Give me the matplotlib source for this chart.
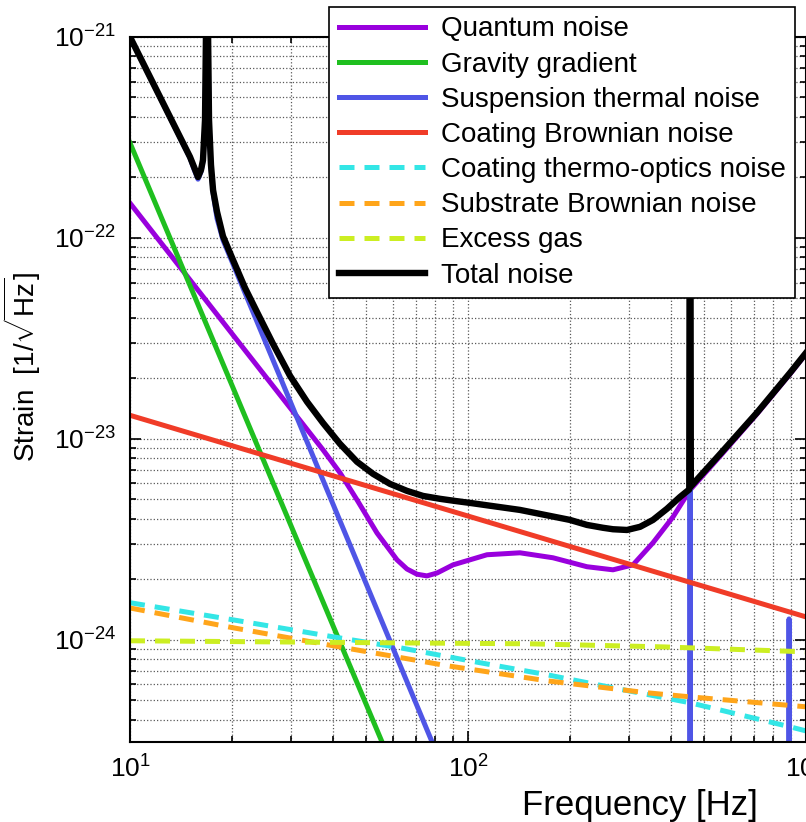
import numpy as np
import matplotlib
matplotlib.use("Agg")
import matplotlib.pyplot as plt

plt.rcParams['font.family'] = ['Liberation Sans', 'DejaVu Sans']
plt.rcParams['mathtext.fontset'] = 'custom'
plt.rcParams['mathtext.rm'] = 'Liberation Sans'
plt.rcParams['mathtext.it'] = 'Liberation Sans:italic'
plt.rcParams['mathtext.bf'] = 'Liberation Sans:bold'

# frequency [Hz] / strain [1/sqrt(Hz)]
f_quantum = [10, 15.05, 20.17, 29.74, 37.24, 41.81, 46.95, 53.8, 61.66, 66.0, 70.66,
             75.6, 81.0, 90.3, 113.8, 142.5, 178.4, 224.9, 268.5, 307.7, 352.6,
             404.2, 453.9, 556.8, 716, 896.6, 1000]
s_quantum = [1.49e-22, 6.18e-23, 3.29e-23, 1.43e-23, 8.82e-24, 6.78e-24, 4.97e-24,
             3.40e-24, 2.50e-24, 2.25e-24, 2.12e-24, 2.08e-24, 2.15e-24, 2.36e-24,
             2.65e-24, 2.71e-24, 2.56e-24, 2.31e-24, 2.23e-24, 2.36e-24, 3.04e-24,
             4.09e-24, 5.57e-24, 8.2e-24, 1.33e-23, 2.1e-23, 2.65e-23]

f_gravity = [10, 20, 40, 80]
s_gravity = [2.97e-22, 1.86e-23, 1.16e-24, 7.3e-26]

f_susp = [10, 15.05, 15.46, 15.89, 16.22, 16.44, 16.67, 16.9, 17.13, 17.36, 17.61,
          18.09, 18.84, 78.3, 100, 200, 451.5, 453.9, 456.3, 885, 891, 897, 1000]
s_susp = [1.0e-21, 2.5e-22, 2.2e-22, 1.96e-22, 2.13e-22, 2.4e-22, 3.8e-22, 3e-21,
          3.8e-22, 2.25e-22, 1.68e-22, 1.25e-22, 9.77e-23, 3.1e-25, 1.15e-25, 8e-27,
          5e-28, 3e-21, 5e-28, 1e-28, 1.27e-24, 1e-28, 1e-28]

f_coat = [10, 100, 1000]
s_coat = [1.31e-23, 4.13e-24, 1.30e-24]

f_cto = [10, 20.17, 39.87, 62.9, 108.5, 171.3, 268.5, 453.9, 896.6, 1000]
s_cto = [1.53e-24, 1.257e-24, 1.035e-24, 9.13e-25, 7.69e-25, 6.70e-25, 5.77e-25,
         4.86e-25, 3.69e-25, 3.52e-25]

f_sub = [10, 20.17, 39.87, 86.7, 171.3, 338.5, 453.9, 1000]
s_sub = [1.44e-24, 1.148e-24, 9.34e-25, 7.43e-25, 6.25e-25, 5.45e-25, 5.20e-25, 4.64e-25]

f_gas = [10, 58.8, 152.6, 377.6, 1000]
s_gas = [9.89e-25, 9.66e-25, 9.55e-25, 9.22e-25, 8.71e-25]

f_total = [10, 15.05, 15.46, 15.89, 16.22, 16.44, 16.67, 16.9, 17.13, 17.36, 17.61,
           18.09, 18.84, 20.17, 21.89, 23.75, 26.49, 29.74, 33.40, 37.24, 41.81, 46.95,
           52.35, 58.77, 65.99, 73.6, 82.65, 91.5, 101.4, 142.5, 200.3, 224.9, 250.8,
           268.5, 295.4, 322.9, 352.6, 388.0, 423.9, 451.5, 453.9, 456.3, 556.8, 716,
           896.6, 1000]
s_total = [1.0e-21, 2.53e-22, 2.26e-22, 2.01e-22, 2.18e-22, 2.44e-22, 3.86e-22, 3e-21,
           3.86e-22, 2.31e-22, 1.73e-22, 1.35e-22, 1.02e-22, 7.77e-23, 5.64e-23, 4.28e-23,
           2.97e-23, 2.06e-23, 1.53e-23, 1.20e-23, 9.44e-24, 7.69e-24, 6.70e-24, 5.97e-24,
           5.51e-24, 5.20e-24, 5.03e-24, 4.91e-24, 4.80e-24, 4.43e-24, 3.95e-24, 3.73e-24,
           3.61e-24, 3.55e-24, 3.52e-24, 3.65e-24, 3.95e-24, 4.49e-24, 5.14e-24, 5.6e-24,
           3e-21, 5.8e-24, 8.4e-24, 1.35e-23, 2.13e-23, 2.68e-23]

x_ticks = [10, 100, 1000]
y_ticks = [1e-24, 1e-23, 1e-22, 1e-21]

fig = plt.figure(figsize=(8.06, 8.22), dpi=100)
ax = fig.add_axes([130/806, 80/822, 676/806, 705/822])

lw = 3.6
dash = (0, (3, 2))
ax.loglog(f_quantum, s_quantum, color='#9900dd', lw=lw, label='Quantum noise')
ax.loglog(f_gravity, s_gravity, color='#1fbf1f', lw=lw, label='Gravity gradient')
ax.loglog(f_susp, s_susp, color='#4f55e6', lw=lw, label='Suspension thermal noise')
ax.loglog(f_coat, s_coat, color='#f03c28', lw=lw, label='Coating Brownian noise')
ax.loglog(f_cto, s_cto, color='#33e6e6', lw=lw, ls=dash, label='Coating thermo-optics noise')
ax.loglog(f_sub, s_sub, color='#ffa51a', lw=lw, ls=dash, label='Substrate Brownian noise')
ax.loglog(f_gas, s_gas, color='#ccee22', lw=lw, ls=dash, label='Excess gas')
ax.loglog(f_total, s_total, color='black', lw=4.6, label='Total noise')

ax.set_xlim(10, 1000)
ax.set_ylim(3.1e-25, 1e-21)
ax.set_xticks(x_ticks)
ax.set_yticks(y_ticks)

ax.grid(True, which='both', ls=':', color='0.35', lw=0.9)
ax.tick_params(which='both', direction='in', top=True, right=True, labelsize=19,
               width=1.2)
ax.tick_params(which='major', length=8, pad=10)
ax.tick_params(which='minor', length=4)
for sp in ax.spines.values():
    sp.set_linewidth(1.5)

ax.set_xlabel('Frequency [Hz]', fontsize=25)
ax.set_ylabel('Strain  [1/$\\sqrt{\\mathrm{Hz}}$]', fontsize=20)
ax.xaxis.set_label_coords(0.754, -0.067)
ax.yaxis.set_label_coords(-0.128, 0.532)

leg = ax.legend(loc='upper right', bbox_to_anchor=(0.984, 1.043), borderaxespad=0,
                fancybox=False, edgecolor='black', framealpha=1, fontsize=20,
                handlelength=3.1, handletextpad=0.55, labelspacing=0.33, borderpad=0.35)
leg.get_frame().set_linewidth(1.2)

plt.savefig('out.png', dpi=100)
